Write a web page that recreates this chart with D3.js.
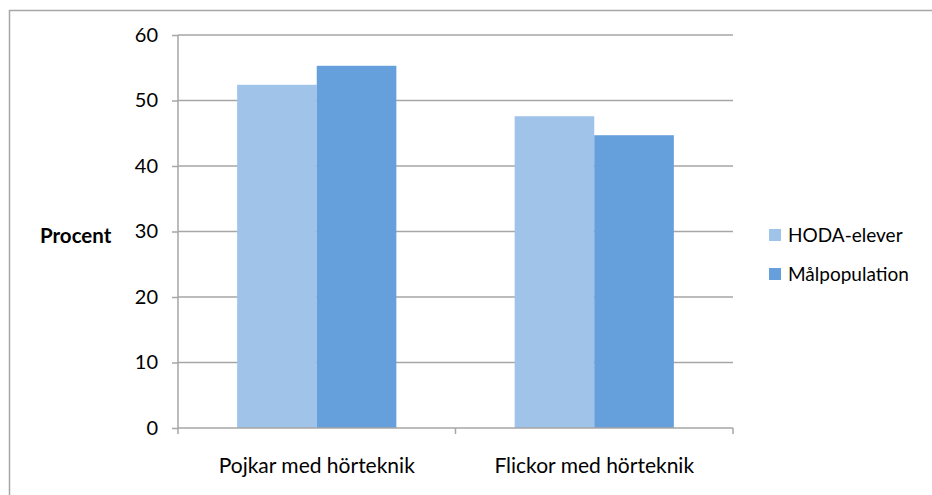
<!DOCTYPE html>
<html><head><meta charset="utf-8">
<script src="https://cdn.jsdelivr.net/npm/d3@7"></script>
<style>body{margin:0;background:#fff}svg{display:block}text{font-family:Lato,sans-serif;fill:#000}</style>
</head><body>
<script>
const categories = ["Pojkar med hörteknik", "Flickor med hörteknik"];
const seriesNames = ["HODA-elever", "Målpopulation"];
const hodaValues = [52.4, 47.6];
const malValues = [55.3, 44.7];
const yTicks = [0, 10, 20, 30, 40, 50, 60];
const colors = ["#A0C3EA", "#65A0DD"];

const W = 932, H = 495;
const svg = d3.select("body").append("svg").attr("width", W).attr("height", H);
svg.append("rect").attr("x", 9.5).attr("y", 10.5).attr("width", 940).attr("height", 500)
  .attr("fill", "none").attr("stroke", "#A6A6A6").attr("stroke-width", 1.5);

const pLeft = 178, pRight = 733, pTop = 35, pBottom = 428;
const x = d3.scaleBand().domain(categories).range([pLeft, pRight]).paddingInner(0).paddingOuter(0);
const y = d3.scaleLinear().domain([0, 60]).range([pBottom, pTop]);
const xs = d3.scaleBand().domain(seriesNames).range([0, x.bandwidth()]).paddingInner(0).paddingOuter(0.743);

// gridlines
svg.append("g").selectAll("line").data(yTicks.filter(d => d > 0)).join("line")
  .attr("x1", pLeft).attr("x2", pRight).attr("y1", d => y(d)).attr("y2", d => y(d))
  .attr("stroke", "#A6A6A6").attr("stroke-width", 1.5);

const data = categories.map((c, i) => ({ c, vals: [hodaValues[i], malValues[i]] }));
svg.append("g").selectAll("g").data(data).join("g")
  .attr("transform", d => `translate(${x(d.c)},0)`)
  .selectAll("rect").data(d => d.vals.map((v, j) => ({ v, s: seriesNames[j], j }))).join("rect")
  .attr("x", d => xs(d.s)).attr("width", xs.bandwidth())
  .attr("y", d => y(d.v)).attr("height", d => pBottom - y(d.v))
  .attr("fill", d => colors[d.j]);

// y axis
const yAxis = d3.axisLeft(y).tickValues(yTicks).tickSize(6).tickPadding(14);
const gy = svg.append("g").attr("transform", `translate(${pLeft},0)`).call(yAxis);
gy.selectAll("path,line").attr("stroke", "#A6A6A6").attr("stroke-width", 1.5);
gy.select(".domain").attr("d", `M0,${pTop}V${pBottom}`);
gy.selectAll("text").style("font-size", "20px").style("font-family", "Lato,sans-serif").attr("fill", "#000");

// x axis
const gx = svg.append("g").attr("transform", `translate(0,${pBottom})`);
gx.append("line").attr("x1", pLeft).attr("x2", pRight).attr("stroke", "#A6A6A6").attr("stroke-width", 1.5);
const tickX = [pLeft, ...categories.map(c => x(c) + x.bandwidth())];
gx.selectAll(".tk").data(tickX).join("line").attr("class", "tk")
  .attr("x1", d => d).attr("x2", d => d).attr("y1", 0).attr("y2", 6)
  .attr("stroke", "#A6A6A6").attr("stroke-width", 1.5);
gx.selectAll(".lb").data(categories).join("text").attr("class", "lb")
  .attr("x", d => x(d) + x.bandwidth() / 2).attr("y", 45)
  .attr("text-anchor", "middle").style("font-size", "21px").text(d => d);

svg.append("text").attr("x", 40).attr("y", 243).style("font-size", "20.5px").style("font-weight", "bold").text("Procent");

// legend
const lg = svg.append("g").selectAll("g").data(seriesNames).join("g")
  .attr("transform", (d, i) => `translate(769,${229 + i * 39})`);
lg.append("rect").attr("width", 12).attr("height", 12).attr("fill", (d, i) => colors[i]);
lg.append("text").attr("x", 19).attr("y", 13).style("font-size", "19px").text(d => d);
</script>
</body></html>
